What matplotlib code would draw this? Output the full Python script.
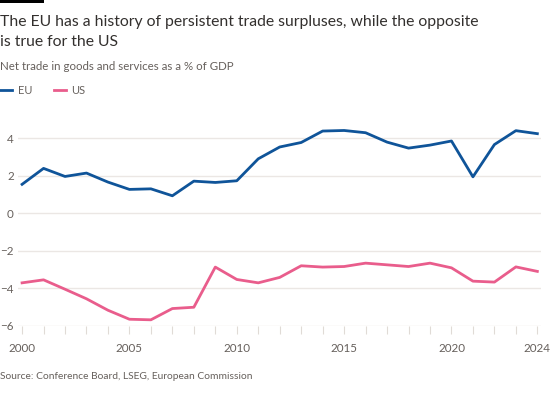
import matplotlib.pyplot as plt
import matplotlib.patches as mpatches
from matplotlib.lines import Line2D

# Net trade in goods and services, % of GDP
years = list(range(2000, 2025))
eu = [1.55, 2.40, 1.97, 2.15, 1.67, 1.28, 1.31, 0.94, 1.72, 1.65, 1.74, 2.91,
      3.54, 3.78, 4.39, 4.42, 4.30, 3.80, 3.48, 3.64, 3.86, 1.95, 3.67, 4.41, 4.25]
us = [-3.70, -3.54, -4.04, -4.55, -5.16, -5.64, -5.67, -5.07, -5.00, -2.86, -3.52, -3.70,
      -3.41, -2.79, -2.86, -2.83, -2.65, -2.74, -2.83, -2.65, -2.90, -3.61, -3.66, -2.85, -3.09]
xticks = [2000, 2005, 2010, 2015, 2020, 2024]
yticks = [-6, -4, -2, 0, 2, 4]

eu_color = '#0f5499'
us_color = '#e95d8c'
grey = '#66605c'

plt.rcParams['font.family'] = ['Lato', 'DejaVu Sans']

W, H = 554, 396
fig = plt.figure(figsize=(W / 100, H / 100), dpi=100)
fig.patch.set_facecolor('white')

def fy(px):
    # pixel row from top -> figure fraction
    return 1 - px / H

# little black bar top left
fig.add_artist(mpatches.Rectangle((0, fy(3)), 44 / W, 3 / H, transform=fig.transFigure,
                                  color='black', lw=0))

fig.text(0, fy(26), 'The EU has a history of persistent trade surpluses, while the opposite',
         fontsize=11.3, color='#33302e', va='baseline', ha='left')
fig.text(0, fy(46), 'is true for the US',
         fontsize=11.3, color='#33302e', va='baseline', ha='left')
fig.text(0, fy(70), 'Net trade in goods and services as a % of GDP',
         fontsize=8.3, color=grey, va='baseline', ha='left')

# legend
fig.add_artist(Line2D([0, 12 / W], [fy(90)] * 2, color=eu_color, lw=2, transform=fig.transFigure))
fig.text(18 / W, fy(94), 'EU', fontsize=8.0, color=grey, va='baseline')
fig.add_artist(Line2D([54 / W, 66 / W], [fy(90)] * 2, color=us_color, lw=2, transform=fig.transFigure))
fig.text(71 / W, fy(94), 'US', fontsize=8.0, color=grey, va='baseline')

ax = fig.add_axes([18 / W, 70 / H, 523 / W, 206.4 / H])
ax.plot(years, eu, color=eu_color, lw=2, solid_joinstyle='round')
ax.plot(years, us, color=us_color, lw=2, solid_joinstyle='round')

ax.set_xlim(1999.81, 2024.17)
ax.set_ylim(-6, 5)
for s in ax.spines.values():
    s.set_visible(False)
ax.set_yticks(yticks)
ax.grid(axis='y', color='#ebe7e4', lw=1)
ax.set_axisbelow(True)
ax.tick_params(axis='y', length=0, pad=3, labelsize=8.4, labelcolor=grey)

ax.set_xticks(years)
ax.set_xticklabels([str(y) if y in xticks else '' for y in years])
ax.tick_params(axis='x', length=6, width=0.8, color='#e0dbd6', pad=6, labelsize=8.4, labelcolor=grey)

fig.text(0, fy(379), 'Source: Conference Board, LSEG, European Commission',
         fontsize=7.4, color=grey, va='baseline', ha='left')

fig.savefig('out.png', dpi=100, facecolor='white')
